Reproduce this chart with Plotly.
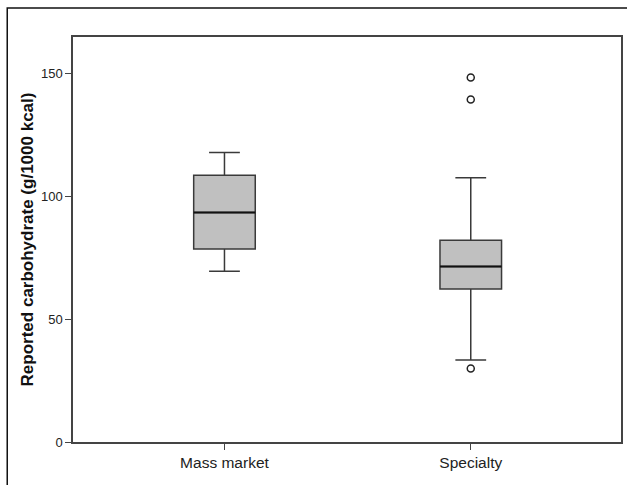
import plotly.graph_objects as go

categories = ["Mass market", "Specialty"]
q1 = [78.6, 62.3]
median = [93.5, 71.5]
q3 = [108.7, 82.2]
lower_whisker = [69.6, 33.4]
upper_whisker = [117.9, 107.7]
outlier_cat = [1, 1, 1]
outlier_vals = [148.5, 139.5, 29.9]
y_ticks = [0, 50, 100, 150]

xpos = list(range(len(categories)))
box_w = 0.25

fig = go.Figure()
fig.add_trace(go.Box(
    x=xpos, q1=q1, median=median, q3=q3,
    lowerfence=lower_whisker, upperfence=upper_whisker,
    width=box_w, whiskerwidth=0.5,
    fillcolor="#c0c0c0", line=dict(color="#3a3a3a", width=1.5),
    boxpoints=False, showlegend=False, hoverinfo="skip",
))
for i, m in zip(xpos, median):
    fig.add_trace(go.Scatter(
        x=[i - box_w / 2, i + box_w / 2], y=[m, m], mode="lines",
        line=dict(color="#111111", width=2), showlegend=False, hoverinfo="skip",
    ))
fig.add_trace(go.Scatter(
    x=outlier_cat, y=outlier_vals, mode="markers",
    marker=dict(symbol="circle-open", size=7, color="#222222", line=dict(width=1.5)),
    showlegend=False, hoverinfo="skip",
))

L, R, T, B = 73, 4, 37, 43
W, H = 627, 485
pw, ph = W - L - R, H - T - B
fx = (7 - L) / pw
fy = 1 + (T - 8) / ph

fig.update_layout(
    width=W, height=H,
    margin=dict(l=L, r=R, t=T, b=B),
    paper_bgcolor="white", plot_bgcolor="white",
    font=dict(family="Liberation Sans, Arial, sans-serif", color="#222222", size=12),
    shapes=[dict(type="path", xref="paper", yref="paper",
                 path=f"M {fx} -0.5 L {fx} {fy} L 1.5 {fy}",
                 line=dict(color="#111111", width=1.5))],
)
fig.update_xaxes(
    range=[-0.615, 1.61], tickvals=xpos, ticktext=categories,
    showgrid=False, zeroline=False, showline=True, mirror=True,
    linecolor="#444444", linewidth=1.5, ticks="outside", ticklen=6,
    tickcolor="#444444", tickfont=dict(size=15.5),
)
fig.update_yaxes(
    range=[0, 165], tickvals=y_ticks,
    showgrid=False, zeroline=False, showline=True, mirror=True,
    linecolor="#444444", linewidth=1.5, ticks="outside", ticklen=6,
    tickcolor="#444444", tickfont=dict(size=13),
    title=dict(text="<b>Reported carbohydrate (g/1000 kcal)</b>",
               font=dict(size=17, color="#111111"), standoff=3),
)

fig.write_html("out.html", config={"displayModeBar": False},
               post_script="document.body.style.margin='0';")
